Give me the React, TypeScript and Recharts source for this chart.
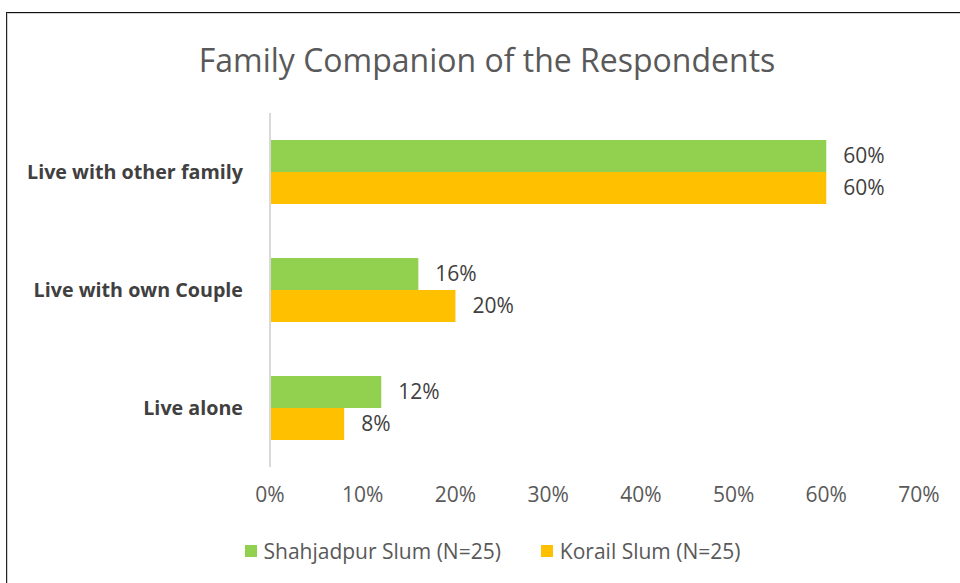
import { Bar, BarChart, LabelList, Legend, XAxis, YAxis } from 'recharts';

// Family companion of the respondents, % of each slum sample
const categories = ['Live with other family', 'Live with own Couple', 'Live alone'];
const shahjadpur = [60, 16, 12];
const korail = [60, 20, 8];
const xTicks = [0, 10, 20, 30, 40, 50, 60, 70];

const SERIES = [
  { key: 'shahjadpur', name: 'Shahjadpur Slum (N=25)', color: '#92D050' },
  { key: 'korail', name: 'Korail Slum (N=25)', color: '#FFC000' },
];

const FONT = '"Open Sans", Lato, "Noto Sans", sans-serif';

const data = categories.map((c, i) => ({
  category: c,
  shahjadpur: shahjadpur[i],
  korail: korail[i],
}));

function LegendContent() {
  return (
    <div
      style={{
        display: 'flex',
        justifyContent: 'center',
        gap: 40,
        paddingLeft: 66,
        fontFamily: FONT,
        fontSize: 21,
        color: '#595959',
      }}
    >
      {SERIES.map((s) => (
        <div key={s.key} style={{ display: 'flex', alignItems: 'center', gap: 7 }}>
          <span style={{ width: 12, height: 12, background: s.color, display: 'inline-block' }} />
          <span>{s.name}</span>
        </div>
      ))}
    </div>
  );
}

export default function App() {
  return (
    <div style={{ position: 'absolute', left: 0, top: 0, width: 960, height: 583, overflow: 'hidden', background: '#fff' }}>
      {/* frame of the cropped chart area */}
      <div
        style={{
          position: 'absolute',
          left: 6,
          top: 12,
          width: 1000,
          height: 620,
          borderTop: '1.5px solid #111',
          borderLeft: '1.5px solid #222',
          boxShadow: 'inset 1px 1px 0 #d0d0d0',
        }}
      />
      <div
        style={{
          position: 'absolute',
          left: 0,
          width: 974,
          top: 38,
          textAlign: 'center',
          fontFamily: FONT,
          fontSize: 32,
          color: '#595959',
        }}
      >
        Family Companion of the Respondents
      </div>
      <div style={{ position: 'absolute', left: 0, top: 0 }}>
        <BarChart
          width={960}
          height={583}
          data={data}
          layout="vertical"
          margin={{ top: 113, right: 41, bottom: 20, left: 0 }}
          barCategoryGap={27}
          barGap={0}
        >
          <XAxis
            type="number"
            domain={[0, 70]}
            ticks={xTicks}
            tickFormatter={(v: number) => `${v}%`}
            axisLine={false}
            tickLine={false}
            tickSize={0}
            tickMargin={20}
            height={70}
            tick={{ fill: '#595959', fontSize: 21, fontFamily: FONT }}
          />
          <YAxis
            type="category"
            dataKey="category"
            width={270}
            tickLine={false}
            tickSize={0}
            tickMargin={27}
            axisLine={{ stroke: '#d9d9d9', strokeWidth: 2 }}
            tick={{ fill: '#404040', fontSize: 19.7, fontWeight: 700, fontFamily: FONT }}
          />
          <Legend verticalAlign="bottom" height={26} content={<LegendContent />} />
          {SERIES.map((s) => (
            <Bar key={s.key} dataKey={s.key} name={s.name} fill={s.color} isAnimationActive={false}>
              <LabelList
                dataKey={s.key}
                position="right"
                offset={17}
                formatter={(v: number) => `${v}%`}
                style={{ fill: '#404040', fontSize: 21, fontFamily: FONT }}
              />
            </Bar>
          ))}
        </BarChart>
      </div>
    </div>
  );
}
